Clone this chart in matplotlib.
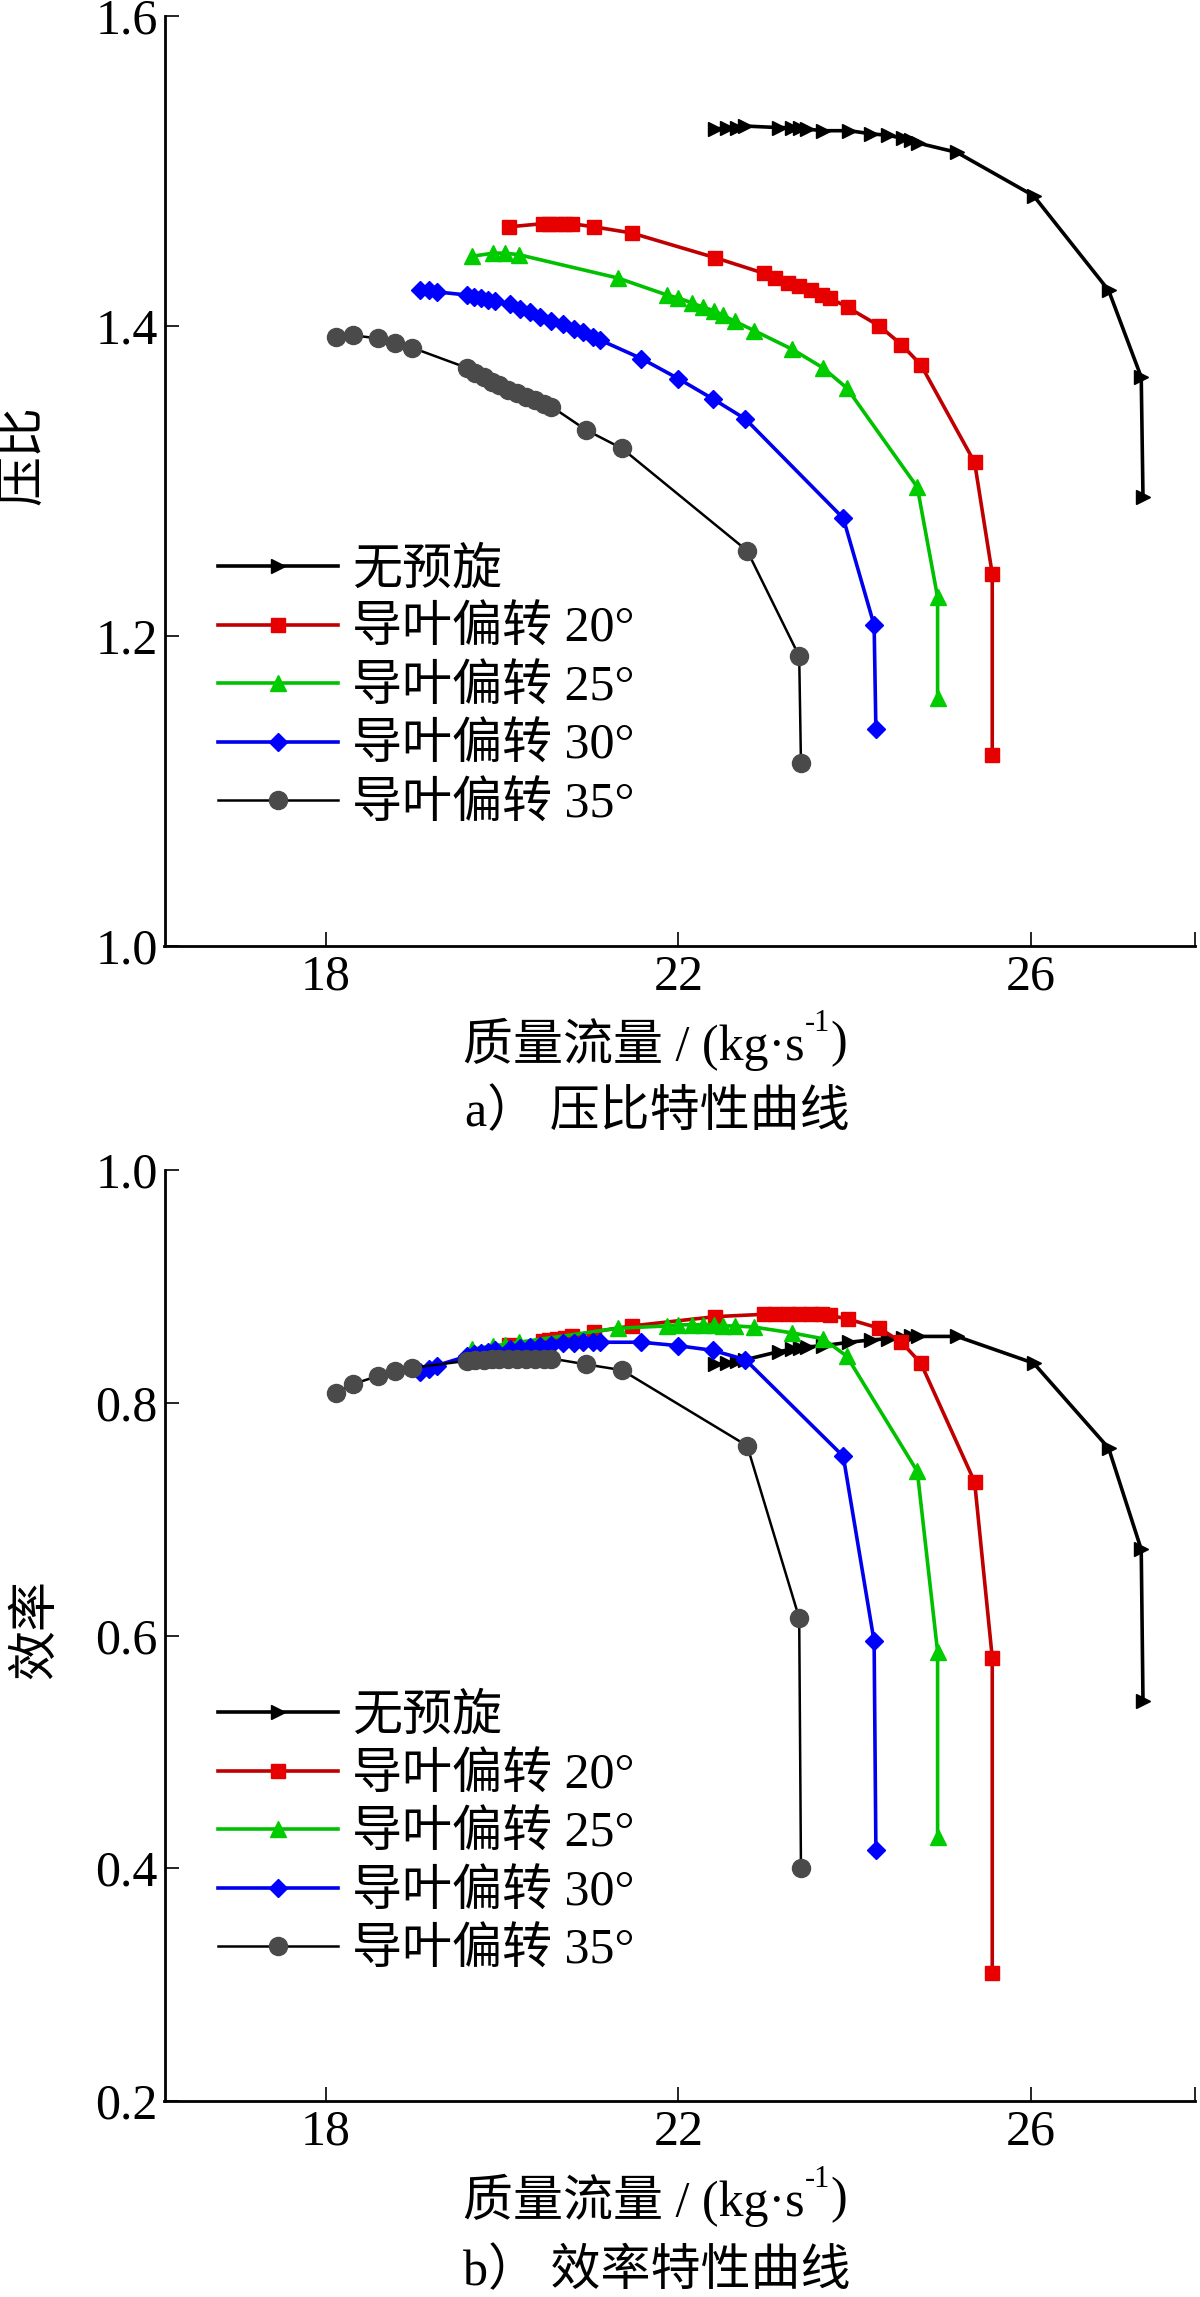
import matplotlib
matplotlib.use("Agg")
import matplotlib.pyplot as plt

plt.rcParams['font.family'] = ['Liberation Serif', 'Noto Sans CJK SC', 'DejaVu Sans']

# mass flow (kg/s), pressure ratio and efficiency per guide-vane setting
m_0 = [22.42, 22.55, 22.66, 22.76, 23.14, 23.29, 23.38, 23.46, 23.64, 23.94,
       24.18, 24.38, 24.55, 24.64, 24.72, 25.16, 26.03, 26.88, 27.25, 27.27]
pr_0 = [1.527, 1.528, 1.528, 1.529, 1.528, 1.528, 1.528, 1.527, 1.526, 1.526,
        1.524, 1.523, 1.521, 1.520, 1.518, 1.512, 1.484, 1.423, 1.367, 1.290]
eff_0 = [0.833, 0.834, 0.836, 0.837, 0.844, 0.846, 0.847, 0.848, 0.849, 0.852,
         0.854, 0.855, 0.856, 0.857, 0.857, 0.857, 0.834, 0.761, 0.674, 0.544]

m_20 = [20.08, 20.46, 20.53, 20.62, 20.71, 20.79, 21.04, 21.47, 22.42, 22.97,
        23.10, 23.24, 23.37, 23.50, 23.63, 23.72, 23.92, 24.28, 24.53, 24.75,
        25.36, 25.56, 25.56]
pr_20 = [1.464, 1.466, 1.466, 1.466, 1.466, 1.466, 1.464, 1.460, 1.444, 1.434,
         1.431, 1.428, 1.426, 1.423, 1.420, 1.418, 1.412, 1.400, 1.388, 1.375,
         1.312, 1.240, 1.123]
eff_20 = [0.850, 0.853, 0.854, 0.855, 0.856, 0.857, 0.861, 0.866, 0.874, 0.876,
          0.876, 0.876, 0.876, 0.876, 0.876, 0.875, 0.872, 0.864, 0.852, 0.834,
          0.732, 0.581, 0.310]

m_25 = [19.66, 19.90, 20.03, 20.19, 21.31, 21.87, 22.00, 22.15, 22.28, 22.40,
        22.50, 22.64, 22.86, 23.29, 23.64, 23.91, 24.71, 24.94, 24.94]
pr_25 = [1.445, 1.447, 1.447, 1.446, 1.431, 1.420, 1.418, 1.415, 1.412, 1.410,
         1.407, 1.403, 1.397, 1.385, 1.373, 1.360, 1.296, 1.225, 1.160]
eff_25 = [0.846, 0.849, 0.850, 0.852, 0.864, 0.866, 0.867, 0.867, 0.867, 0.867,
          0.866, 0.866, 0.865, 0.860, 0.855, 0.840, 0.741, 0.586, 0.427]

m_30 = [19.07, 19.17, 19.26, 19.60, 19.68, 19.76, 19.84, 19.92, 20.09, 20.20,
        20.32, 20.43, 20.56, 20.69, 20.81, 20.92, 21.03, 21.11, 21.58, 22.00,
        22.39, 22.76, 23.87, 24.22, 24.24]
pr_30 = [1.423, 1.423, 1.422, 1.420, 1.419, 1.418, 1.417, 1.416, 1.414, 1.411,
         1.409, 1.406, 1.403, 1.401, 1.398, 1.396, 1.393, 1.391, 1.379, 1.366,
         1.353, 1.340, 1.276, 1.207, 1.140]
eff_30 = [0.826, 0.829, 0.832, 0.840, 0.842, 0.843, 0.844, 0.845, 0.846, 0.847,
          0.848, 0.849, 0.850, 0.851, 0.851, 0.852, 0.852, 0.852, 0.852, 0.849,
          0.845, 0.837, 0.754, 0.595, 0.416]

m_35 = [18.11, 18.31, 18.59, 18.79, 18.98, 19.60, 19.69, 19.79, 19.88, 19.97,
        20.07, 20.17, 20.27, 20.37, 20.47, 20.56, 20.95, 21.36, 22.78, 23.37,
        23.39]
pr_35 = [1.393, 1.394, 1.392, 1.389, 1.386, 1.373, 1.370, 1.367, 1.364, 1.362,
         1.359, 1.357, 1.354, 1.352, 1.350, 1.348, 1.333, 1.321, 1.255, 1.187,
         1.118]
eff_35 = [0.808, 0.816, 0.823, 0.827, 0.830, 0.836, 0.837, 0.837, 0.838, 0.838,
          0.838, 0.838, 0.838, 0.838, 0.838, 0.838, 0.833, 0.828, 0.763, 0.615,
          0.400]

labels = ['无预旋', '导叶偏转 20°', '导叶偏转 25°', '导叶偏转 30°', '导叶偏转 35°']
x_ticks = [18, 22, 26]
pr_ticks = [1.0, 1.2, 1.4, 1.6]
eff_ticks = [0.2, 0.4, 0.6, 0.8, 1.0]

styles = [
    dict(color='black', marker='>', ms=10.5, mfc='black', mec='black', lw=2.6),
    dict(color='#c00000', marker='s', ms=9.5, mfc='#e60000', mec='#e60000', lw=2.6),
    dict(color='#00c000', marker='^', ms=11, mfc='#00cc00', mec='#00cc00', lw=2.6),
    dict(color='#0000ee', marker='D', ms=9.5, mfc='#0000ff', mec='#0000ff', lw=2.6),
    dict(color='black', marker='o', ms=13, mfc='#4a4a4a', mec='#4a4a4a', lw=1.8),
]

FS = 36       # text
FS_TICK = 36  # tick labels
W, H = 1200, 2297
fig = plt.figure(figsize=(W / 100, H / 100), dpi=100)


def px_axes(left, right, top, bottom):
    return fig.add_axes([left / W, 1 - bottom / H, (right - left) / W, (bottom - top) / H])


def style_axes(ax, yticks, ylim):
    ax.set_xlim(16.17, 27.86)
    ax.set_ylim(*ylim)
    ax.set_xticks(x_ticks)
    ax.set_xticklabels([str(t) for t in x_ticks])
    ax.set_yticks(yticks)
    ax.set_yticklabels(['%.1f' % t for t in yticks])
    ax.set_xticks([27.86], minor=True)
    ax.spines['top'].set_visible(False)
    ax.spines['right'].set_visible(False)
    ax.spines['left'].set_linewidth(2)
    ax.spines['bottom'].set_linewidth(2)
    ax.tick_params(which='both', direction='in', length=10, width=1.2,
                   labelsize=FS_TICK, pad=5)
    ax.tick_params(axis='x', pad=6)


series_pr = [(m_0, pr_0), (m_20, pr_20), (m_25, pr_25), (m_30, pr_30), (m_35, pr_35)]
series_eff = [(m_0, eff_0), (m_20, eff_20), (m_25, eff_25), (m_30, eff_30), (m_35, eff_35)]

panels = [
    (px_axes(164.5, 1195, 16, 946), series_pr, pr_ticks, (1.0, 1.6), '压比',
     (25, 455), 0.428, 1044, 'a） 压比特性曲线', 1113),
    (px_axes(164.5, 1195, 1170, 2101), series_eff, eff_ticks, (0.2, 1.0), '效率',
     (37, 1629), 0.437, 2200, 'b） 效率特性曲线', 2272),
]

for ax, series, yticks, ylim, ylab, ylab_pos, leg_y, xlab_y, cap, cap_y in panels:
    for (m, v), lab, st in zip(series, labels, styles):
        ax.plot(m, v, label=lab, **st)
    style_axes(ax, yticks, ylim)

    ax.legend(loc='upper left', bbox_to_anchor=(0.052, leg_y),
              frameon=False, fontsize=FS, handlelength=2.4, handletextpad=0.28,
              labelspacing=0.24, borderpad=0, borderaxespad=0, numpoints=1)

    fig.text(ylab_pos[0] / W, 1 - ylab_pos[1] / H, ylab, rotation=90,
             ha='center', va='center', fontsize=FS)

    # x label with a raised "-1" exponent
    t1 = fig.text(463 / W, 1 - xlab_y / H, '质量流量 / (kg·s',
                  ha='left', va='center', fontsize=FS)
    sup = ax.annotate('-1', xy=(1.0, 0.62), xycoords=t1, ha='left', va='bottom',
                      fontsize=22, annotation_clip=False)
    ax.annotate(')', xy=(1.0, 0.5), xycoords=(sup, t1), ha='left', va='center',
                fontsize=FS, annotation_clip=False)

    fig.text(657 / W, 1 - cap_y / H, cap, ha='center', va='center', fontsize=FS)

fig.savefig('out.png', dpi=100)
